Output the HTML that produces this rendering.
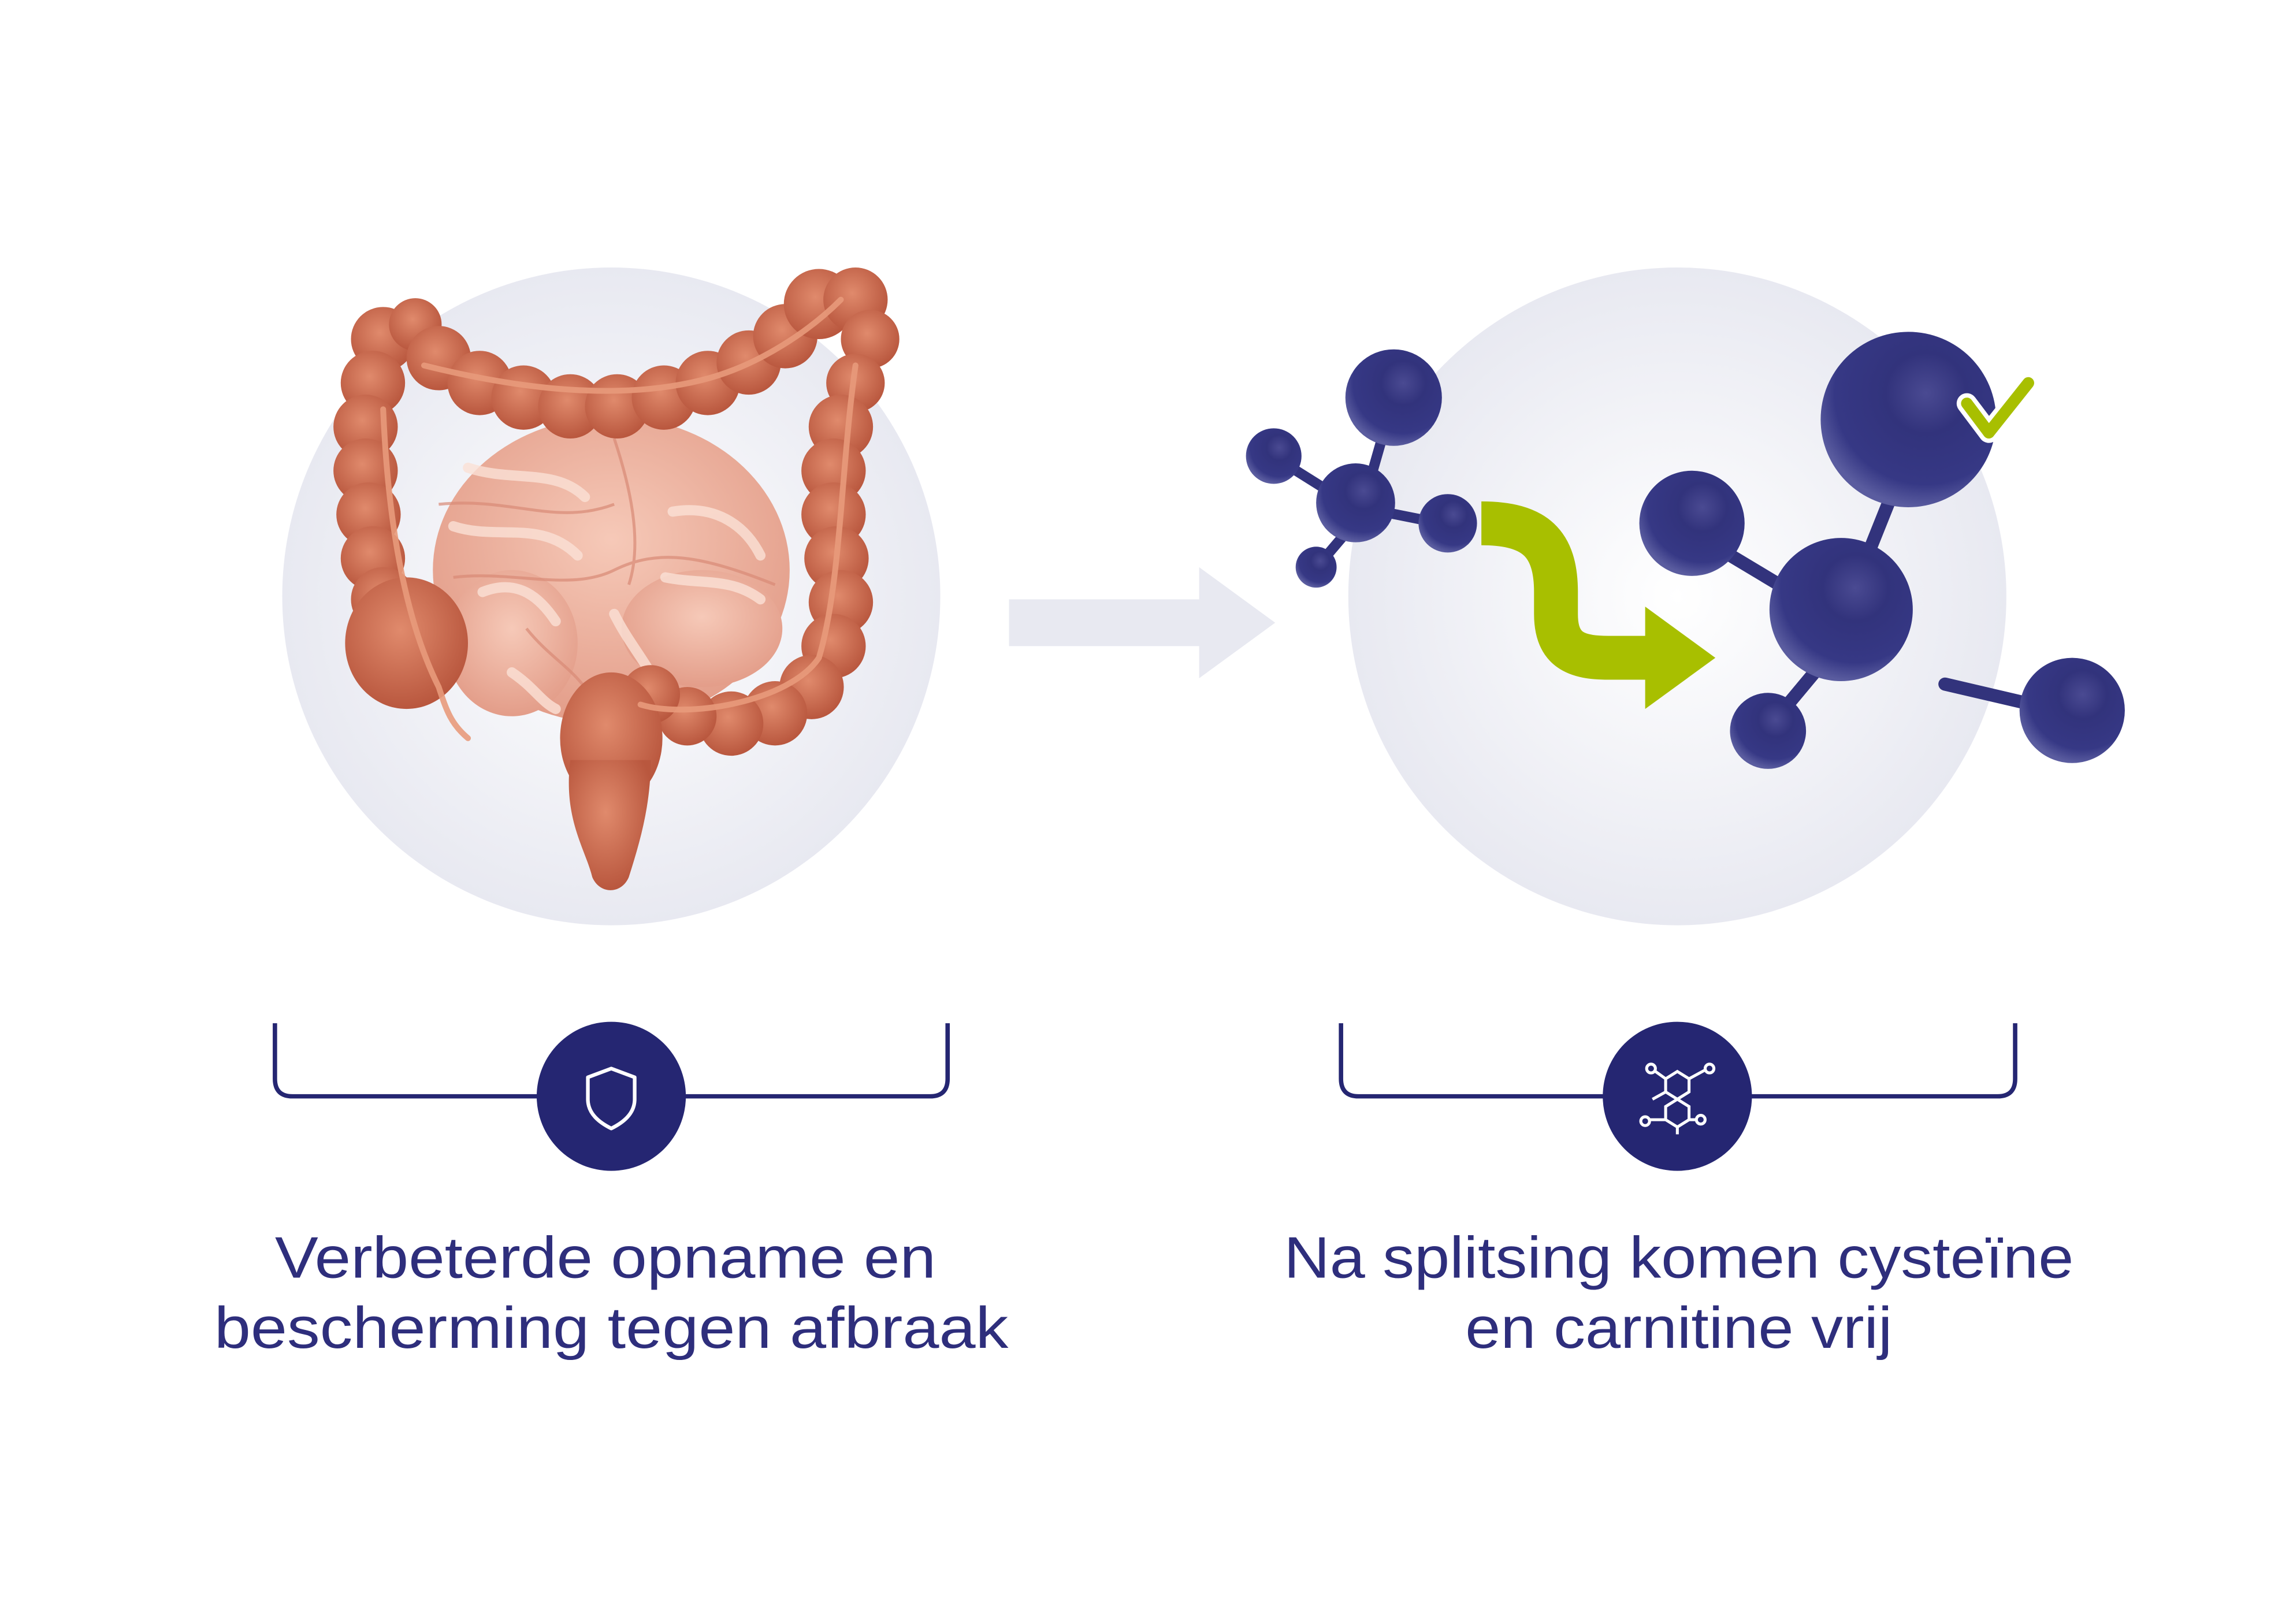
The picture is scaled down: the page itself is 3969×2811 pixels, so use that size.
<!DOCTYPE html>
<html><head><meta charset="utf-8"><style>
html,body{margin:0;padding:0;background:#fff;}
svg{display:block;}
</style></head><body>
<svg width="3969" height="2811" viewBox="0 0 1568 1111" preserveAspectRatio="none" xmlns="http://www.w3.org/2000/svg">
<defs>
<radialGradient id="bg" cx="0.5" cy="0.5" r="0.5">
<stop offset="0" stop-color="#ffffff"/><stop offset="1" stop-color="#e8e9f1"/>
</radialGradient>
<radialGradient id="ball" cx="0.6" cy="0.35" r="0.65">
<stop offset="0" stop-color="#4a4a92"/><stop offset="0.35" stop-color="#32337c"/><stop offset="0.8" stop-color="#363885"/><stop offset="1" stop-color="#5a5c9f"/>
</radialGradient>
<radialGradient id="seg" cx="0.45" cy="0.4" r="0.6">
<stop offset="0" stop-color="#e08a6c"/><stop offset="1" stop-color="#b9573e"/>
</radialGradient>
<radialGradient id="si" cx="0.5" cy="0.4" r="0.6">
<stop offset="0" stop-color="#f6c9b8"/><stop offset="1" stop-color="#e39d89"/>
</radialGradient>
</defs>
<rect width="1568" height="1111" fill="#fff"/>
<circle cx="418" cy="408" r="225" fill="url(#bg)"/>
<circle cx="1147" cy="408" r="225" fill="url(#bg)"/>
<path d="M690,410 H820 V388 L872,426 L820,464 V442 H690 Z" fill="#e8e9f1"/>

<g>
<ellipse cx="418" cy="390" rx="122" ry="105" fill="url(#si)"/>
<ellipse cx="350" cy="440" rx="45" ry="50" fill="url(#si)"/>
<ellipse cx="480" cy="430" rx="55" ry="40" fill="url(#si)"/>
<g fill="none" stroke="#fbe1d6" stroke-width="7" stroke-linecap="round" opacity="0.8">
<path d="M320,320 C350,330 380,320 400,340"/>
<path d="M310,360 C340,370 370,355 395,380"/>
<path d="M330,405 C355,395 370,410 380,425"/>
<path d="M460,350 C490,345 510,360 520,380"/>
<path d="M455,395 C480,400 500,395 520,410"/>
<path d="M420,420 C430,440 440,450 450,470"/>
<path d="M350,460 C365,470 370,480 380,485"/>
</g>
<g fill="none" stroke="#d98a76" stroke-width="2" opacity="0.7">
<path d="M300,345 C350,340 380,360 420,345"/>
<path d="M310,395 C350,390 390,405 420,390 C450,375 480,380 530,400"/>
<path d="M420,300 C430,330 440,370 430,400"/>
<path d="M360,430 C380,455 400,460 410,490"/>
</g>
</g>

<g fill="url(#seg)">
<circle cx="262" cy="232" r="22"/><circle cx="284" cy="222" r="18"/>
<circle cx="255" cy="262" r="22"/><circle cx="250" cy="292" r="22"/>
<circle cx="250" cy="322" r="22"/><circle cx="252" cy="352" r="22"/>
<circle cx="255" cy="382" r="22"/><circle cx="262" cy="410" r="22"/>
<ellipse cx="278" cy="440" rx="42" ry="45"/>
<circle cx="300" cy="245" r="22"/><circle cx="328" cy="262" r="22"/>
<circle cx="358" cy="272" r="22"/><circle cx="390" cy="278" r="22"/>
<circle cx="422" cy="278" r="22"/><circle cx="454" cy="272" r="22"/>
<circle cx="484" cy="262" r="22"/><circle cx="512" cy="248" r="22"/>
<circle cx="537" cy="230" r="22"/><circle cx="560" cy="208" r="24"/>
<circle cx="585" cy="205" r="22"/><circle cx="595" cy="232" r="20"/>
<circle cx="585" cy="262" r="20"/><circle cx="575" cy="292" r="22"/>
<circle cx="570" cy="322" r="22"/><circle cx="570" cy="352" r="22"/>
<circle cx="572" cy="382" r="22"/><circle cx="575" cy="412" r="22"/>
<circle cx="570" cy="442" r="22"/><circle cx="555" cy="470" r="22"/>
<circle cx="530" cy="488" r="22"/><circle cx="500" cy="495" r="22"/>
<circle cx="470" cy="490" r="20"/><circle cx="445" cy="475" r="20"/>
<ellipse cx="418" cy="505" rx="35" ry="45"/>
<path d="M390,520 C385,560 400,580 405,600 C410,612 425,612 430,600 C438,575 445,550 445,520 Z"/>
</g>
<g fill="none" stroke="#e89a7b" stroke-width="4" stroke-linecap="round" opacity="0.9">
<path d="M262,280 C265,350 275,420 300,470 C305,485 308,495 320,505"/>
<path d="M290,250 C350,265 420,275 480,260 C520,250 555,225 575,205"/>
<path d="M585,250 C575,320 575,400 560,450 C540,480 470,492 438,482"/>
</g>

<g stroke="#32337c" stroke-width="7" stroke-linecap="round">
<line x1="945" y1="300" x2="935" y2="335"/>
<line x1="880" y1="318" x2="915" y2="340"/>
<line x1="945" y1="350" x2="985" y2="358"/>
<line x1="920" y1="365" x2="903" y2="385"/>
</g>
<circle cx="953" cy="272" r="33" fill="url(#ball)"/>
<circle cx="871" cy="312" r="19" fill="url(#ball)"/>
<circle cx="927" cy="344" r="27" fill="url(#ball)"/>
<circle cx="990" cy="358" r="20" fill="url(#ball)"/>
<circle cx="900" cy="388" r="14" fill="url(#ball)"/>

<path d="M1013,358 C1050,358 1064,372 1064,405 L1064,420 C1064,445 1078,450 1100,450 L1130,450" fill="none" stroke="#a8bf00" stroke-width="30"/>
<path d="M1125,415 L1173,450 L1125,485 Z" fill="#a8bf00"/>

<g stroke="#32337c" stroke-width="9" stroke-linecap="round">
<line x1="1295" y1="335" x2="1275" y2="385"/>
<line x1="1175" y1="375" x2="1225" y2="405"/>
<line x1="1245" y1="455" x2="1220" y2="485"/>
<line x1="1330" y1="468" x2="1390" y2="482"/>
</g>
<circle cx="1305" cy="287" r="60" fill="url(#ball)"/>
<circle cx="1157" cy="358" r="36" fill="url(#ball)"/>
<circle cx="1259" cy="417" r="49" fill="url(#ball)"/>
<circle cx="1209" cy="500" r="26" fill="url(#ball)"/>
<circle cx="1417" cy="486" r="36" fill="url(#ball)"/>
<path d="M1345,276 L1360,296 L1387,262" fill="none" stroke="#fff" stroke-width="14" stroke-linecap="round" stroke-linejoin="round"/>
<path d="M1345,276 L1360,296 L1387,262" fill="none" stroke="#a8bf00" stroke-width="8" stroke-linecap="round" stroke-linejoin="round"/>

<g fill="none" stroke="#252672" stroke-width="3">
<path d="M188,700 V738 Q188,750 200,750 H636 Q648,750 648,738 V700"/>
<path d="M917,700 V738 Q917,750 929,750 H1366 Q1378,750 1378,738 V700"/>
</g>
<circle cx="418" cy="750" r="51" fill="#252672"/>
<circle cx="1147" cy="750" r="51" fill="#252672"/>
<path d="M418,731 L434,737 V752 C434,762 426,768 418,772 C410,768 402,762 402,752 V737 Z" fill="none" stroke="#fff" stroke-width="2.5" stroke-linejoin="round"/>
<g fill="none" stroke="#fff" stroke-width="2">
<path d="M1147,733 L1155,738 V747 L1147,752 L1139,747 V738 Z"/>
<path d="M1147,752 L1155,757 V766 L1147,771 L1139,766 V757 Z"/>
<line x1="1155" y1="738" x2="1166" y2="732"/><circle cx="1169" cy="731" r="3"/>
<line x1="1139" y1="738" x2="1132" y2="733"/><circle cx="1129" cy="731" r="3"/>
<line x1="1155" y1="766" x2="1160" y2="766"/><circle cx="1163" cy="766" r="3"/>
<line x1="1139" y1="766" x2="1128" y2="766"/><circle cx="1125" cy="767" r="3"/>
<line x1="1147" y1="771" x2="1147" y2="776"/>
<line x1="1139" y1="747" x2="1130" y2="752"/>
</g>

<g font-family="Liberation Sans, sans-serif" font-size="40" fill="#2e2e7c" text-anchor="middle" font-weight="300">
<text x="414" y="874" textLength="452" lengthAdjust="spacingAndGlyphs">Verbeterde opname en</text>
<text x="418" y="922" textLength="543" lengthAdjust="spacingAndGlyphs">bescherming tegen afbraak</text>
<text x="1148" y="874" textLength="540" lengthAdjust="spacingAndGlyphs">Na splitsing komen cysteïne</text>
<text x="1148" y="922" textLength="292" lengthAdjust="spacingAndGlyphs">en carnitine vrij</text>
</g>
</svg>
</body></html>
